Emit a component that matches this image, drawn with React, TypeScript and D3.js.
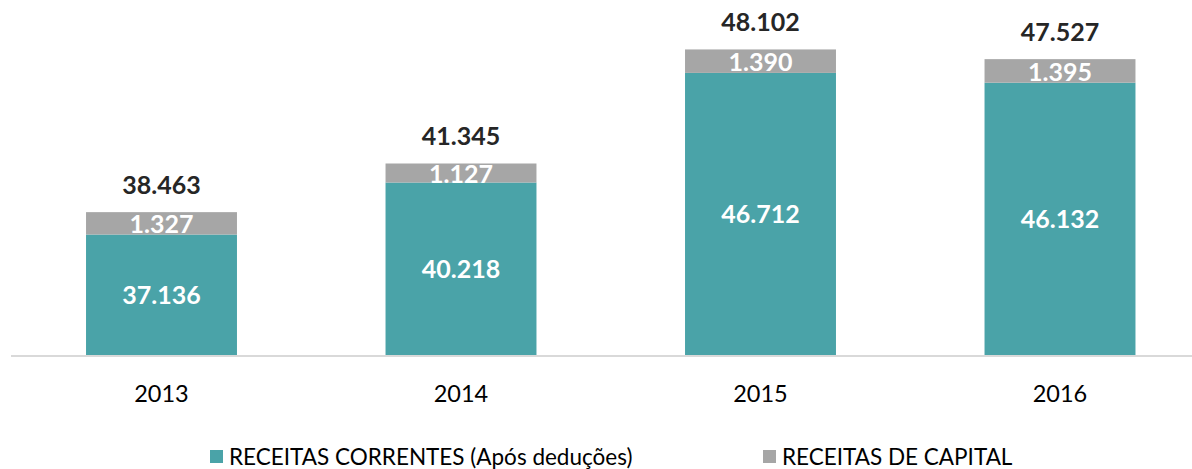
import React from "react";
import * as d3 from "d3";

const years = ["2013", "2014", "2015", "2016"];
const correntes = [37136, 40218, 46712, 46132];
const capital = [1327, 1127, 1390, 1395];
const totals = [38463, 41345, 48102, 47527];
const legendLabels = ["RECEITAS CORRENTES (Após deduções)", "RECEITAS DE CAPITAL"];

const W = 1192;
const H = 469;
const TEAL = "#4aa3a8";
const GRAY = "#a6a6a6";
const FONT = "Lato, 'Open Sans', sans-serif";

const fmt = (v: number) => d3.format(",")(v).replace(/,/g, ".");

export default function App() {
  const x = d3
    .scaleBand()
    .domain(years)
    .range([11.75, 1209.75])
    .paddingInner(0.496)
    .paddingOuter(0.248);

  const y = d3.scaleLinear().domain([30000, 50000]).range([355, 17.4]);

  const bw = x.bandwidth();

  return (
    <svg
      width={W}
      height={H}
      style={{ position: "absolute", left: 0, top: 0, fontFamily: FONT }}
    >
      <rect width={W} height={H} fill="#fff" />
      {years.map((yr, i) => {
        const x0 = x(yr) as number;
        const cx = x0 + bw / 2;
        const yTeal = y(correntes[i]);
        const yTop = y(correntes[i] + capital[i]);
        return (
          <g key={yr}>
            <rect x={x0} y={yTeal} width={bw} height={y(30000) - yTeal} fill={TEAL} />
            <rect x={x0} y={yTop} width={bw} height={yTeal - yTop} fill={GRAY} />
            <text
              x={cx}
              y={(yTeal + y(30000)) / 2}
              dy="0.36em"
              textAnchor="middle"
              fill="#fff"
              fontWeight="bold"
              fontSize={25}
            >
              {fmt(correntes[i])}
            </text>
            <text
              x={cx}
              y={(yTop + yTeal) / 2 + 1}
              dy="0.36em"
              textAnchor="middle"
              fill="#fff"
              fontWeight="bold"
              fontSize={25}
            >
              {fmt(capital[i])}
            </text>
            <text
              x={cx}
              y={yTop - 27}
              dy="0.36em"
              textAnchor="middle"
              fill="#262626"
              fontWeight="bold"
              fontSize={25}
            >
              {fmt(totals[i])}
            </text>
            <text
              x={cx}
              y={394}
              dy="0.36em"
              textAnchor="middle"
              fill="#000"
              fontSize={23.5}
            >
              {yr}
            </text>
          </g>
        );
      })}
      <line x1={11} x2={W} y1={356} y2={356} stroke="#d9d9d9" strokeWidth={2} />
      <g>
        <rect x={210} y={450} width={13} height={13} fill={TEAL} />
        <text x={229} y={457} dy="0.36em" fontSize={22.5} fill="#000">
          {legendLabels[0]}
        </text>
        <rect x={763} y={450} width={13} height={13} fill={GRAY} />
        <text x={782} y={457} dy="0.36em" fontSize={22.5} fill="#000">
          {legendLabels[1]}
        </text>
      </g>
    </svg>
  );
}
